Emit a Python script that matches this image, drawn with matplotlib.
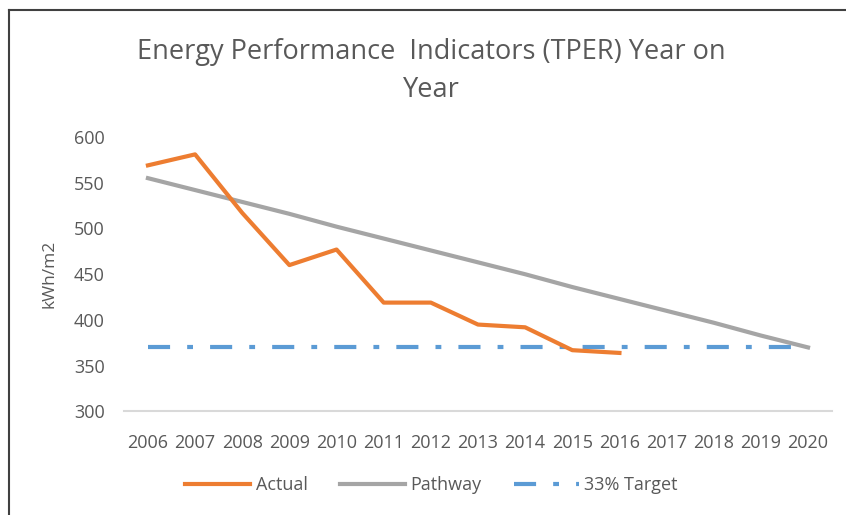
import matplotlib.pyplot as plt
from matplotlib.lines import Line2D

years = [str(y) for y in range(2006, 2021)]
actual = [569, 581, 517, 460, 477, 419, 419, 395, 392, 367, 364]
pathway = [555, 542, 529, 516, 502, 489, 476, 463, 450, 436, 423, 410, 397, 383, 370]
target = [370] * len(years)

title = "Energy Performance  Indicators (TPER) Year on\nYear"
y_label = "kWh/m2"
y_ticks = [300, 350, 400, 450, 500, 550, 600]

text_grey = "#595959"
orange = "#ED7D31"
grey = "#A5A5A5"
blue = "#5B9BD5"
dash_dot = (5.3, 4.1, 1.4, 4.1)

plt.rcParams["font.family"] = ["Open Sans", "DejaVu Sans"]

fig = plt.figure(figsize=(8.46, 5.15), dpi=100)
ax = fig.add_axes([0.147, 0.201, 0.836, 0.533])

# Linhas
x_all = list(range(len(years)))
ax.plot(x_all[:len(actual)], actual, color=orange, lw=3, label="Actual",
        solid_joinstyle="round", zorder=3)
ax.plot(x_all, pathway, color=grey, lw=3, label="Pathway", zorder=2)
ax.plot(x_all, target, color=blue, lw=3, label="33% Target",
        dashes=dash_dot, dash_capstyle="butt", zorder=1)

ax.set_xlim(-0.5, len(years) - 0.5)
ax.set_ylim(300, 600)
ax.set_yticks(y_ticks)
ax.set_xticks(x_all)
ax.set_xticklabels(years)

for side in ["top", "right", "left"]:
    ax.spines[side].set_visible(False)
ax.spines["bottom"].set_color("#D9D9D9")
ax.spines["bottom"].set_linewidth(1.5)

ax.tick_params(axis="both", length=0, colors=text_grey, labelsize=13)
ax.tick_params(axis="x", pad=16)
ax.tick_params(axis="y", pad=14)

ax.set_ylabel(y_label, color=text_grey, fontsize=12.5, labelpad=12)

fig.text(0.51, 0.862, title, ha="center", va="center", color=text_grey,
         fontsize=19.5, linespacing=1.5)

handles = [
    Line2D([], [], color=orange, lw=3),
    Line2D([], [], color=grey, lw=3),
    Line2D([], [], color=blue, lw=3, dashes=dash_dot),
]
fig.legend(handles, ["Actual", "Pathway", "33% Target"], loc="center",
           bbox_to_anchor=(0.51, 0.058), ncol=3, frameon=False,
           fontsize=13, labelcolor=text_grey, handlelength=3.6,
           columnspacing=1.8, handletextpad=0.3)

# Borda (esquerda e topo)
fig.add_artist(Line2D([0.0106, 0.0106], [0, 0.98], transform=fig.transFigure,
                      color="#404040", lw=1.5))
fig.add_artist(Line2D([0.0106, 1], [0.98, 0.98], transform=fig.transFigure,
                      color="#404040", lw=1.5))

fig.savefig("out.png", dpi=100)
